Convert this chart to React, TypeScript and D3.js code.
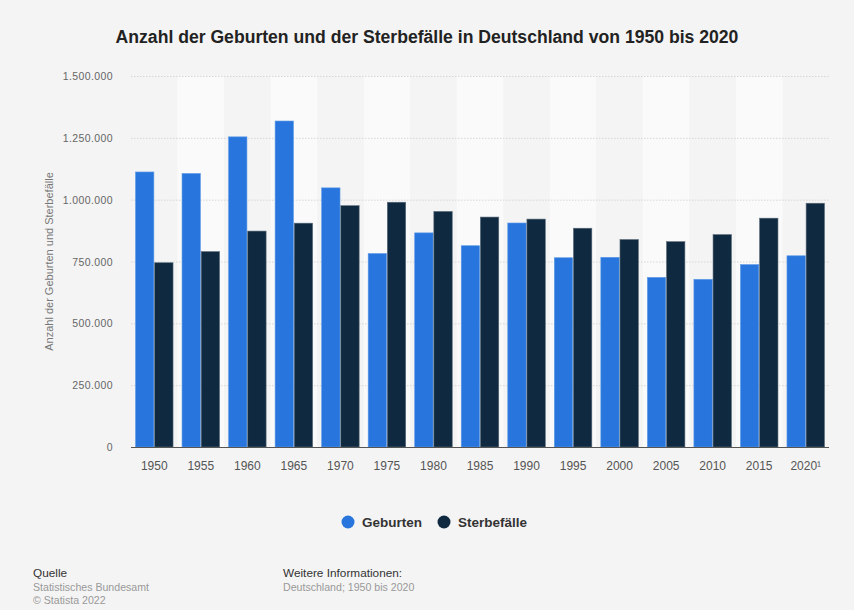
import React, { useEffect, useRef } from 'react';
import * as d3 from 'd3';

const YEARS = ['1950', '1955', '1960', '1965', '1970', '1975', '1980', '1985', '1990', '1995', '2000', '2005', '2010', '2015', '2020¹'];
const GEBURTEN = [1112000, 1106000, 1254000, 1318000, 1047737, 782310, 865789, 813803, 905675, 765221, 766999, 685795, 677947, 737575, 773144];
const STERBEFAELLE = [745000, 790000, 873000, 905000, 975664, 989648, 952371, 929649, 921445, 884588, 838797, 830227, 858768, 925200, 985572];
const Y_TICKS = [0, 250000, 500000, 750000, 1000000, 1250000, 1500000];
const SERIES = [
  { key: 'Geburten', color: '#2876dd', values: GEBURTEN },
  { key: 'Sterbefälle', color: '#0f2a40', values: STERBEFAELLE },
];

const FONT = '"Liberation Sans", Arial, sans-serif';

export default function App() {
  const svgRef = useRef<SVGSVGElement>(null);

  useEffect(() => {
    document.body.style.margin = '0';
    const width = 854;
    const height = 610;
    const margin = { top: 76, right: 25, bottom: 163, left: 131 };

    const svg = d3.select(svgRef.current);
    svg.selectAll('*').remove();
    svg.attr('width', width).attr('height', height).style('display', 'block');

    svg.append('rect').attr('width', width).attr('height', height).attr('fill', '#f4f4f4');

    const x = d3.scaleBand().domain(YEARS).range([margin.left, width - margin.right]);
    const sub = d3.scaleBand().domain(SERIES.map(s => s.key))
      .range([4.5, x.bandwidth() - 4.5]).paddingInner(0.04);
    const y = d3.scaleLinear().domain([0, 1500000]).range([height - margin.bottom, margin.top]);

    // alternating column stripes
    YEARS.forEach((yr, i) => {
      if (i % 2 === 1) {
        svg.append('rect').attr('x', x(yr)!).attr('y', margin.top)
          .attr('width', x.bandwidth()).attr('height', y(0) - margin.top).attr('fill', '#fafafa');
      }
    });

    // grid + y labels
    const fmt = (v: number) => d3.format(',')(v).replace(/,/g, '.');
    Y_TICKS.forEach(t => {
      if (t > 0) {
        svg.append('line').attr('x1', margin.left).attr('x2', width - margin.right)
          .attr('y1', y(t) + 0.5).attr('y2', y(t) + 0.5)
          .attr('stroke', '#d6d6d6').attr('stroke-width', 1).attr('stroke-dasharray', '1.5,1.5');
      }
      svg.append('text').attr('x', 113).attr('y', y(t) + 4).attr('text-anchor', 'end')
        .style('font-family', FONT).style('font-size', '10.5px').style('fill', '#666')
        .style('letter-spacing', '0.4px').text(fmt(t));
    });

    // bars
    SERIES.forEach(s => {
      svg.append('g').selectAll('rect').data(s.values).join('rect')
        .attr('x', (_, i) => x(YEARS[i])! + sub(s.key)!)
        .attr('y', d => y(d))
        .attr('width', sub.bandwidth())
        .attr('height', d => y(0) - y(d))
        .attr('fill', s.color)
        .attr('stroke', s.key === 'Geburten' ? '#5f9be8' : '#5b6b7a')
        .attr('stroke-width', 0.6);
    });

    // baseline
    svg.append('line').attr('x1', margin.left).attr('x2', width - margin.right)
      .attr('y1', y(0) + 0.5).attr('y2', y(0) + 0.5).attr('stroke', '#555').attr('stroke-width', 1);

    // x labels
    YEARS.forEach(yr => {
      svg.append('text').attr('x', x(yr)! + x.bandwidth() / 2).attr('y', y(0) + 23)
        .attr('text-anchor', 'middle').style('font-family', FONT).style('font-size', '12px')
        .style('fill', '#555').text(yr);
    });

    // y axis title
    svg.append('text').attr('transform', `translate(53,${(y(0) + margin.top) / 2}) rotate(-90)`)
      .attr('text-anchor', 'middle').style('font-family', FONT).style('font-size', '11px')
      .style('fill', '#777').text('Anzahl der Geburten und Sterbefälle');

    // title
    svg.append('text').attr('x', 427).attr('y', 43).attr('text-anchor', 'middle')
      .style('font-family', FONT).style('font-size', '17.6px').style('font-weight', 'bold')
      .style('fill', '#222').text('Anzahl der Geburten und der Sterbefälle in Deutschland von 1950 bis 2020');

    // legend
    const legendX = [348, 444];
    SERIES.forEach((s, i) => {
      svg.append('circle').attr('cx', legendX[i]).attr('cy', 522).attr('r', 6.5).attr('fill', s.color);
      svg.append('text').attr('x', legendX[i] + 14).attr('y', 527)
        .style('font-family', FONT).style('font-size', '13.5px').style('font-weight', 'bold')
        .style('fill', '#333').text(s.key);
    });

    // footer
    const foot = (tx: number, ty: number, txt: string, color: string, size: number) =>
      svg.append('text').attr('x', tx).attr('y', ty).style('font-family', FONT)
        .style('font-size', `${size}px`).style('fill', color).text(txt);
    foot(33, 577, 'Quelle', '#333', 11.8);
    foot(33, 591, 'Statistisches Bundesamt', '#999', 10.6);
    foot(33, 604, '© Statista 2022', '#999', 10.6);
    foot(283, 577, 'Weitere Informationen:', '#333', 11.8);
    foot(283, 591, 'Deutschland; 1950 bis 2020', '#999', 10.6);
  }, []);

  return <svg ref={svgRef}></svg>;
}
